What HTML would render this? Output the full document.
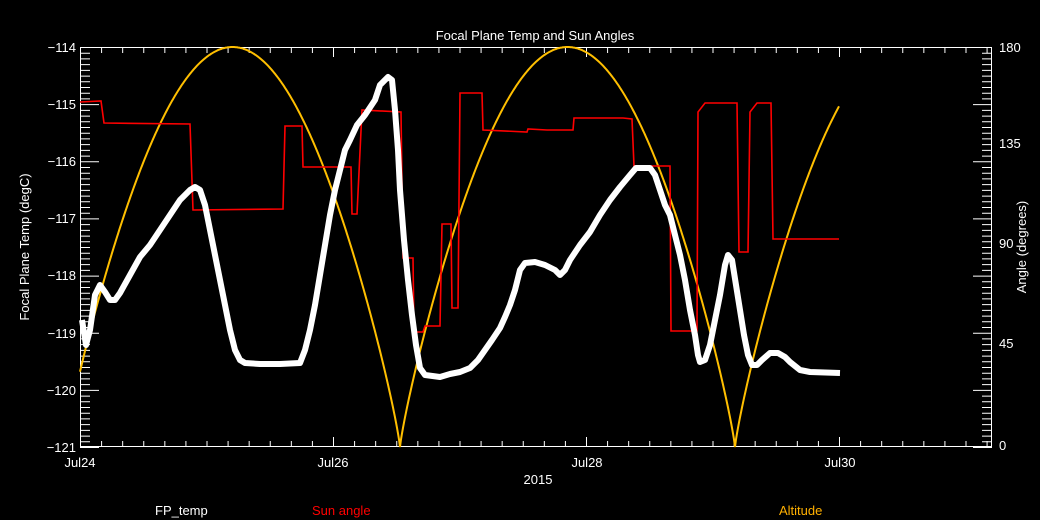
<!DOCTYPE html>
<html><head><meta charset="utf-8"><style>
html,body{margin:0;padding:0;background:#000;}
svg{display:block;}
text{font-family:"Liberation Sans",sans-serif;font-size:13px;}
</style></head><body>
<svg id="s" width="1040" height="520" viewBox="0 0 1040 520" xmlns="http://www.w3.org/2000/svg">
<rect width="1040" height="520" fill="#000"/>
<g id="ticks" stroke="#fff" stroke-width="1"></g>
<rect x="80.5" y="47.5" width="911" height="399" fill="none" stroke="#fff" stroke-width="1"/>
<text x="535" y="40" fill="#fff" text-anchor="middle" font-size="14">Focal Plane Temp and Sun Angles</text>
<g fill="#fff" text-anchor="end">
<text x="76" y="52">−114</text><text x="76" y="109">−115</text><text x="76" y="166">−116</text>
<text x="76" y="223">−117</text><text x="76" y="280">−118</text><text x="76" y="338">−119</text>
<text x="76" y="395">−120</text><text x="76" y="452">−121</text>
</g>
<g fill="#fff">
<text x="999" y="52">180</text><text x="999" y="148">135</text><text x="999" y="248">90</text>
<text x="999" y="348">45</text><text x="999" y="450">0</text>
</g>
<g fill="#fff" text-anchor="middle">
<text x="80" y="467">Jul24</text><text x="333" y="467">Jul26</text><text x="587" y="467">Jul28</text><text x="840" y="467">Jul30</text>
<text x="538" y="484">2015</text>
</g>
<text transform="translate(29,247) rotate(-90)" fill="#fff" text-anchor="middle">Focal Plane Temp (degC)</text>
<text transform="translate(1026,247) rotate(-90)" fill="#fff" text-anchor="middle">Angle (degrees)</text>
<text x="155" y="515" fill="#fff">FP_temp</text>
<text x="312" y="515" fill="#ff0000">Sun angle</text>
<text x="779" y="515" fill="#ffb000">Altitude</text>
<polyline id="alt" fill="none" stroke="#ffbf00" stroke-width="2"/>
<polyline fill="none" stroke="#ff0000" stroke-width="1.6" points="80,102 101,101 104,123 190,124 193,210 283,209 285,126 302,126 303,167 351,167 352,214 357,214 362,110 401,112 403,258 413,258 414,332 423,332 425,326 440,326 442,224 451,224 452,308 458,308 460,93 482,93 483,130 527,132 528,129 547,130 573,130 574,118 623,118 632,119 634,166 670,166 671,331 697,331 698,112 705,103 737,103 739,252 748,252 750,112 757,103 771,103 773,239 839,239"/>
<polyline fill="none" stroke="#fff" stroke-width="6" stroke-linejoin="round" points="82,320 86,345 90,330 95,295 100,285 105,292 110,300 115,300 120,293 130,275 140,257 150,245 160,230 170,215 180,200 190,190 195,187 200,190 205,205 210,230 215,255 220,280 225,305 230,330 235,350 240,360 245,363 260,364 280,364 300,363 305,350 310,330 315,305 320,275 325,245 330,215 335,190 340,170 345,150 350,140 357,125 365,115 375,100 380,85 388,77 392,80 395,110 398,150 400,190 404,240 408,280 412,315 416,345 420,368 425,375 440,377 450,374 460,372 470,368 478,360 485,350 492,340 500,328 505,317 510,305 515,290 520,270 525,263 535,262 545,265 555,270 560,275 565,270 570,260 580,245 590,232 600,215 610,200 620,187 630,175 636,168 650,168 655,175 660,190 665,205 670,215 675,235 680,255 685,280 690,310 695,335 698,355 700,362 705,360 710,345 715,320 720,295 725,265 728,255 732,260 736,285 740,310 744,335 748,355 752,365 757,365 762,360 770,353 778,353 785,357 790,362 800,370 810,372 840,373"/>
</svg>
<script>
(function(){
var g=document.getElementById('ticks'),d='';
var px=126.5/6;
for(var i=0;i*px<=911.5;i++){var x=80.5+i*px,L=(i%12==0)?10:6;
 d+='M'+x+' 447V'+(447-L)+'M'+x+' 47V'+(47+L);}
var py=400/70;
for(var j=0;j<=70;j++){var y=47.5+j*py,L=(j%10==0)?19:10;
 d+='M80 '+y+'H'+(80+L)+'M992 '+y+'H'+(992-L);}
var p=document.createElementNS('http://www.w3.org/2000/svg','path');
p.setAttribute('d',d);g.appendChild(p);
var pts=[];
for(var x=80;x<=839;x+=1){var a=180*Math.pow(Math.abs(Math.sin(Math.PI*(x-65)/335)),0.85);
 pts.push(x+','+(447-a*400/180).toFixed(1));}
document.getElementById('alt').setAttribute('points',pts.join(' '));
})();
</script>
</body></html>
